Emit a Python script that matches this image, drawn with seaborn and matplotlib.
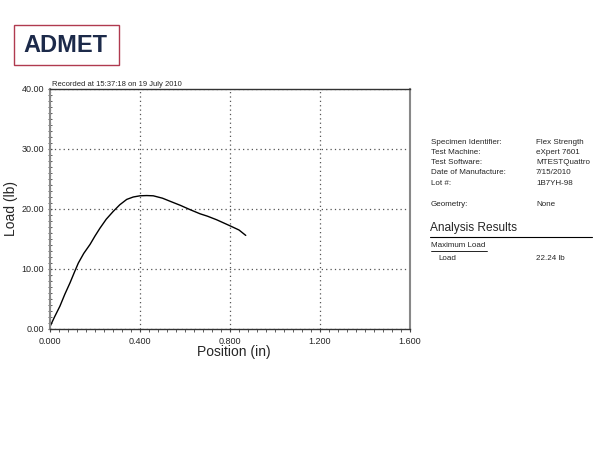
import numpy as np
import pandas as pd
import matplotlib.pyplot as plt
from matplotlib.patches import Rectangle
from matplotlib.ticker import MultipleLocator
import seaborn as sns

# curve
position = [0.0, 0.02, 0.044, 0.066, 0.089, 0.11, 0.126, 0.15, 0.178, 0.2, 0.222, 0.25,
            0.281, 0.31, 0.341, 0.37, 0.4, 0.43, 0.459, 0.5, 0.533, 0.58, 0.622, 0.667,
            0.7, 0.741, 0.8, 0.84, 0.87]
load = [0.4, 2.0, 3.8, 5.8, 7.7, 9.6, 11.0, 12.6, 14.1, 15.5, 16.8, 18.3,
        19.6, 20.7, 21.6, 22.0, 22.2, 22.24, 22.2, 21.8, 21.3, 20.6, 19.9, 19.2,
        18.8, 18.2, 17.2, 16.5, 15.6]

info_labels = ["Specimen Identifier:", "Test Machine:", "Test Software:",
               "Date of Manufacture:", "Lot #:"]
info_values = ["Flex Strength", "eXpert 7601", "MTESTQuattro", "7/15/2010", "1B7YH-98"]

df = pd.DataFrame({"Position (in)": position, "Load (lb)": load})

sns.set_style("white")
plt.rcParams["font.family"] = ["Liberation Sans", "DejaVu Sans"]

fig = plt.figure(figsize=(6, 4.5), dpi=100)
ax = fig.add_axes([50 / 600, 1 - 329 / 450, 360 / 600, 240 / 450])

sns.lineplot(data=df, x="Position (in)", y="Load (lb)", ax=ax, color="black",
             linewidth=1.0, sort=False)

ax.set_xlim(0, 1.6)
ax.set_ylim(0, 40)
ax.xaxis.set_major_locator(MultipleLocator(0.4))
ax.xaxis.set_minor_locator(MultipleLocator(0.04))
ax.yaxis.set_major_locator(MultipleLocator(10))
ax.yaxis.set_minor_locator(MultipleLocator(1))
ax.set_xticklabels([f"{v:.3f}" for v in ax.get_xticks()])
ax.set_yticklabels([f"{v:.2f}" for v in ax.get_yticks()])
ax.tick_params(axis="x", which="both", direction="out", length=2.5, color="#444444")
ax.tick_params(axis="y", which="both", direction="inout", length=2.5, color="#444444")
ax.tick_params(which="major", labelsize=6.5, pad=3)
ax.tick_params(axis="both", left=True, bottom=True, which="both")
ax.grid(True, which="major", linestyle=(0, (1, 2.5)), color="#555555", linewidth=0.9)

for side in ["top", "bottom"]:
    ax.spines[side].set_color("#333333")
    ax.spines[side].set_linewidth(1.0)
ax.spines["left"].set_color("#888888")
ax.spines["left"].set_linewidth(1.5)
ax.spines["right"].set_color("#888888")
ax.spines["right"].set_linewidth(1.5)

ax.set_xlabel("Position (in)", fontsize=10)
ax.set_ylabel("Load (lb)", fontsize=10)
ax.xaxis.set_label_coords(0.51, -0.065)
ax.yaxis.set_label_coords(-0.088, 0.5)

fig.text(52 / 600, 1 - 86 / 450, "Recorded at 15:37:18 on 19 July 2010", fontsize=5.5)

# logo
fig.patches.append(Rectangle((14 / 600, 1 - 65 / 450), 105 / 600, 40 / 450,
                             transform=fig.transFigure, fill=False,
                             edgecolor="#b03a4f", linewidth=1.0))
fig.text(65 / 600, 1 - 45 / 450, "ADMET", fontsize=17, fontweight="bold",
         color="#1c2a4a", ha="center", va="center")

# info panel
fs = 5.8
ys = [142, 152, 162, 173, 183]
for lab, val, y in zip(info_labels, info_values, ys):
    fig.text(431 / 600, 1 - y / 450, lab, fontsize=fs, va="center")
    fig.text(536 / 600, 1 - y / 450, val, fontsize=fs, va="center")
fig.text(431 / 600, 1 - 204 / 450, "Geometry:", fontsize=fs, va="center")
fig.text(536 / 600, 1 - 204 / 450, "None", fontsize=fs, va="center")
fig.text(430 / 600, 1 - 228 / 450, "Analysis Results", fontsize=8.6, va="center")
fig.add_artist(plt.Line2D([430 / 600, 592 / 600], [1 - 237 / 450, 1 - 237 / 450],
                          color="black", linewidth=0.8))
fig.text(431 / 600, 1 - 246 / 450, "Maximum Load", fontsize=fs, va="center")
fig.add_artist(plt.Line2D([431 / 600, 487 / 600], [1 - 251 / 450, 1 - 251 / 450],
                          color="black", linewidth=0.6))
fig.text(438 / 600, 1 - 258 / 450, "Load", fontsize=fs, va="center")
fig.text(536 / 600, 1 - 258 / 450, "22.24 lb", fontsize=fs, va="center")

fig.savefig("out.png", dpi=100)
